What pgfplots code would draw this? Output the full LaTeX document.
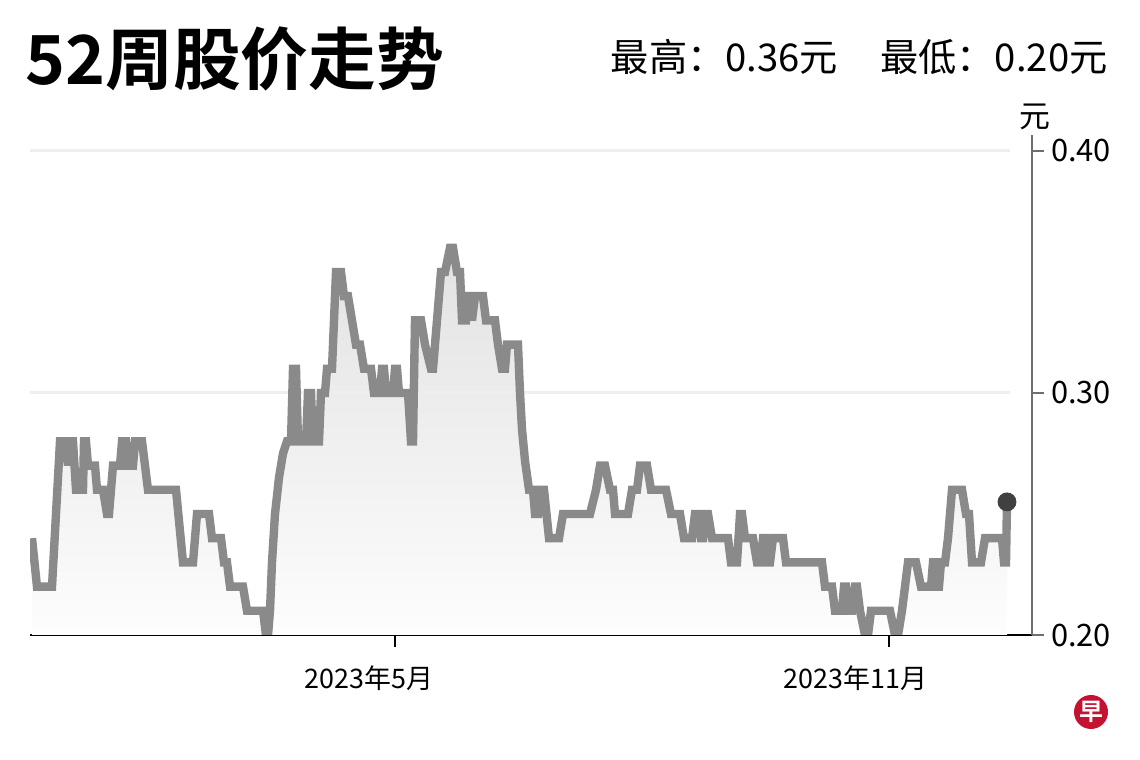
\documentclass[border=0pt]{standalone}
\usepackage{fontspec}
\setmainfont{Noto Sans CJK SC}[BoldFont={Noto Sans CJK SC Bold}]
\usepackage{pgfplots}
\pgfplotsset{compat=1.18}
\usepackage{pgfplotstable}

\definecolor{linegray}{RGB}{138,138,138}
\definecolor{dotgray}{RGB}{64,64,64}
\definecolor{gridgray}{RGB}{238,238,238}
\definecolor{axisgray}{RGB}{110,110,110}
\definecolor{filltop}{RGB}{226,226,226}
\definecolor{fillbot}{RGB}{253,253,253}
\definecolor{logored}{RGB}{196,18,48}

% x = horizontal position in the 1140 px reference, price in yuan
\pgfplotstableread{
px price
32 0.24
37 0.22
52 0.22
60 0.28
66 0.28
68 0.27
70 0.28
73 0.28
76 0.26
83 0.26
84 0.28
86 0.28
88 0.27
95 0.27
97 0.26
103 0.26
107 0.25
109 0.25
113 0.27
120 0.27
122 0.28
126 0.28
128 0.27
133 0.27
135 0.28
142 0.28
148 0.26
176 0.26
183 0.23
193 0.23
197 0.25
209 0.25
212 0.24
221 0.24
224 0.23
227 0.23
230 0.22
243 0.22
247 0.21
263 0.21
266 0.20
268 0.20
270 0.21
272 0.23
275 0.25
279 0.265
283 0.275
287 0.28
291 0.28
293 0.31
296 0.31
298 0.28
306 0.28
308 0.30
311 0.30
313 0.28
319 0.28
321 0.30
325 0.30
327 0.31
332 0.31
336 0.35
341 0.35
344 0.34
348 0.34
356 0.32
360 0.32
364 0.31
371 0.31
374 0.30
380 0.30
382 0.31
384 0.31
386 0.30
393 0.30
395 0.31
397 0.31
399 0.30
408 0.30
411 0.28
413 0.28
415 0.33
421 0.33
425 0.32
431 0.31
433 0.31
437 0.33
441 0.35
445 0.35
450 0.36
453 0.36
457 0.35
460 0.35
462 0.33
466 0.33
468 0.34
470 0.34
472 0.33
475 0.34
483 0.34
486 0.33
495 0.33
498 0.32
502 0.31
505 0.31
507 0.32
518 0.32
520 0.30
522 0.285
525 0.272
529 0.26
533 0.26
535 0.25
538 0.25
540 0.26
544 0.26
549 0.24
559 0.24
563 0.25
590 0.25
596 0.26
600 0.27
605 0.27
610 0.26
613 0.26
615 0.25
628 0.25
632 0.26
637 0.26
640 0.27
647 0.27
651 0.26
666 0.26
671 0.25
680 0.25
684 0.24
692 0.24
695 0.25
699 0.25
701 0.24
703 0.24
705 0.25
708 0.25
712 0.24
728 0.24
731 0.23
737 0.23
740 0.25
742 0.25
745 0.24
753 0.24
757 0.23
761 0.23
763 0.24
765 0.24
767 0.23
770 0.23
773 0.24
783 0.24
786 0.23
822 0.23
825 0.22
832 0.22
835 0.21
842 0.21
844 0.22
846 0.22
848 0.21
852 0.21
855 0.22
857 0.22
860 0.21
865 0.20
868 0.20
871 0.21
890 0.21
895 0.20
898 0.20
902 0.21
908 0.23
916 0.23
921 0.22
931 0.22
933 0.23
935 0.23
937 0.22
939 0.22
941 0.23
945 0.23
948 0.24
952 0.26
962 0.26
966 0.25
969 0.25
972 0.23
981 0.23
985 0.24
1002 0.24
1004 0.23
1006 0.23
1007 0.255
}\pricedata

\begin{document}
\begin{tikzpicture}
\path[use as bounding box] (0,0) rectangle (570bp,380bp);

\node[anchor=west, inner sep=0, font=\fontsize{34}{34}\selectfont\bfseries]
  at (12.5bp,350.5bp) {52周股价走势};
\node[anchor=east, inner sep=0, font=\fontsize{19.2}{20}\selectfont]
  at (554bp,351.5bp) {最高：0.36元\hspace{21bp}最低：0.20元};
\node[inner sep=0, font=\fontsize{15.5}{16}\selectfont] at (517.5bp,321.5bp) {元};

\begin{axis}[
  at={(15bp,62.5bp)}, anchor=south west,
  scale only axis, width=501bp, height=250bp,
  xmin=30, xmax=1032, ymin=0.2, ymax=0.4066,
  axis x line*=bottom, axis y line*=right,
  x axis line style={black, line width=1bp},
  y axis line style={axisgray, line width=0.75bp},
  xtick={395,889}, xticklabels={2023年5月,2023年11月},
  ytick={0.2,0.3,0.4}, yticklabels={0.20,0.30,0.40},
  tick align=outside, major tick length=6bp,
  xtick style={black, line width=0.75bp},
  ytick style={axisgray, line width=0.75bp},
  xticklabel style={font=\fontsize{13.5}{14}\selectfont, anchor=north east,
    xshift=22.5bp, yshift=-6bp},
  yticklabel style={font=\fontsize{15.5}{16}\selectfont, anchor=west},
]
\addplot[draw=none, top color=filltop, bottom color=fillbot]
  table[x=px, y=price] {\pricedata} \closedcycle;
\draw[gridgray, line width=1.5bp] (axis cs:30,0.30) -- (axis cs:1010,0.30);
\draw[gridgray, line width=1.5bp] (axis cs:30,0.40) -- (axis cs:1010,0.40);
\addplot[linegray, line width=4.2bp, mark=none, miter limit=3]
  table[x=px, y=price] {\pricedata};
\addplot[only marks, mark=*, mark size=4.5bp, dotgray]
  coordinates {(1007,0.255)};
\end{axis}

\fill[logored] (545.5bp,24bp) circle (8.5bp);
\node[text=white, inner sep=0, font=\fontsize{12}{12}\selectfont\bfseries] at (545.5bp,24bp) {早};
\end{tikzpicture}
\end{document}
